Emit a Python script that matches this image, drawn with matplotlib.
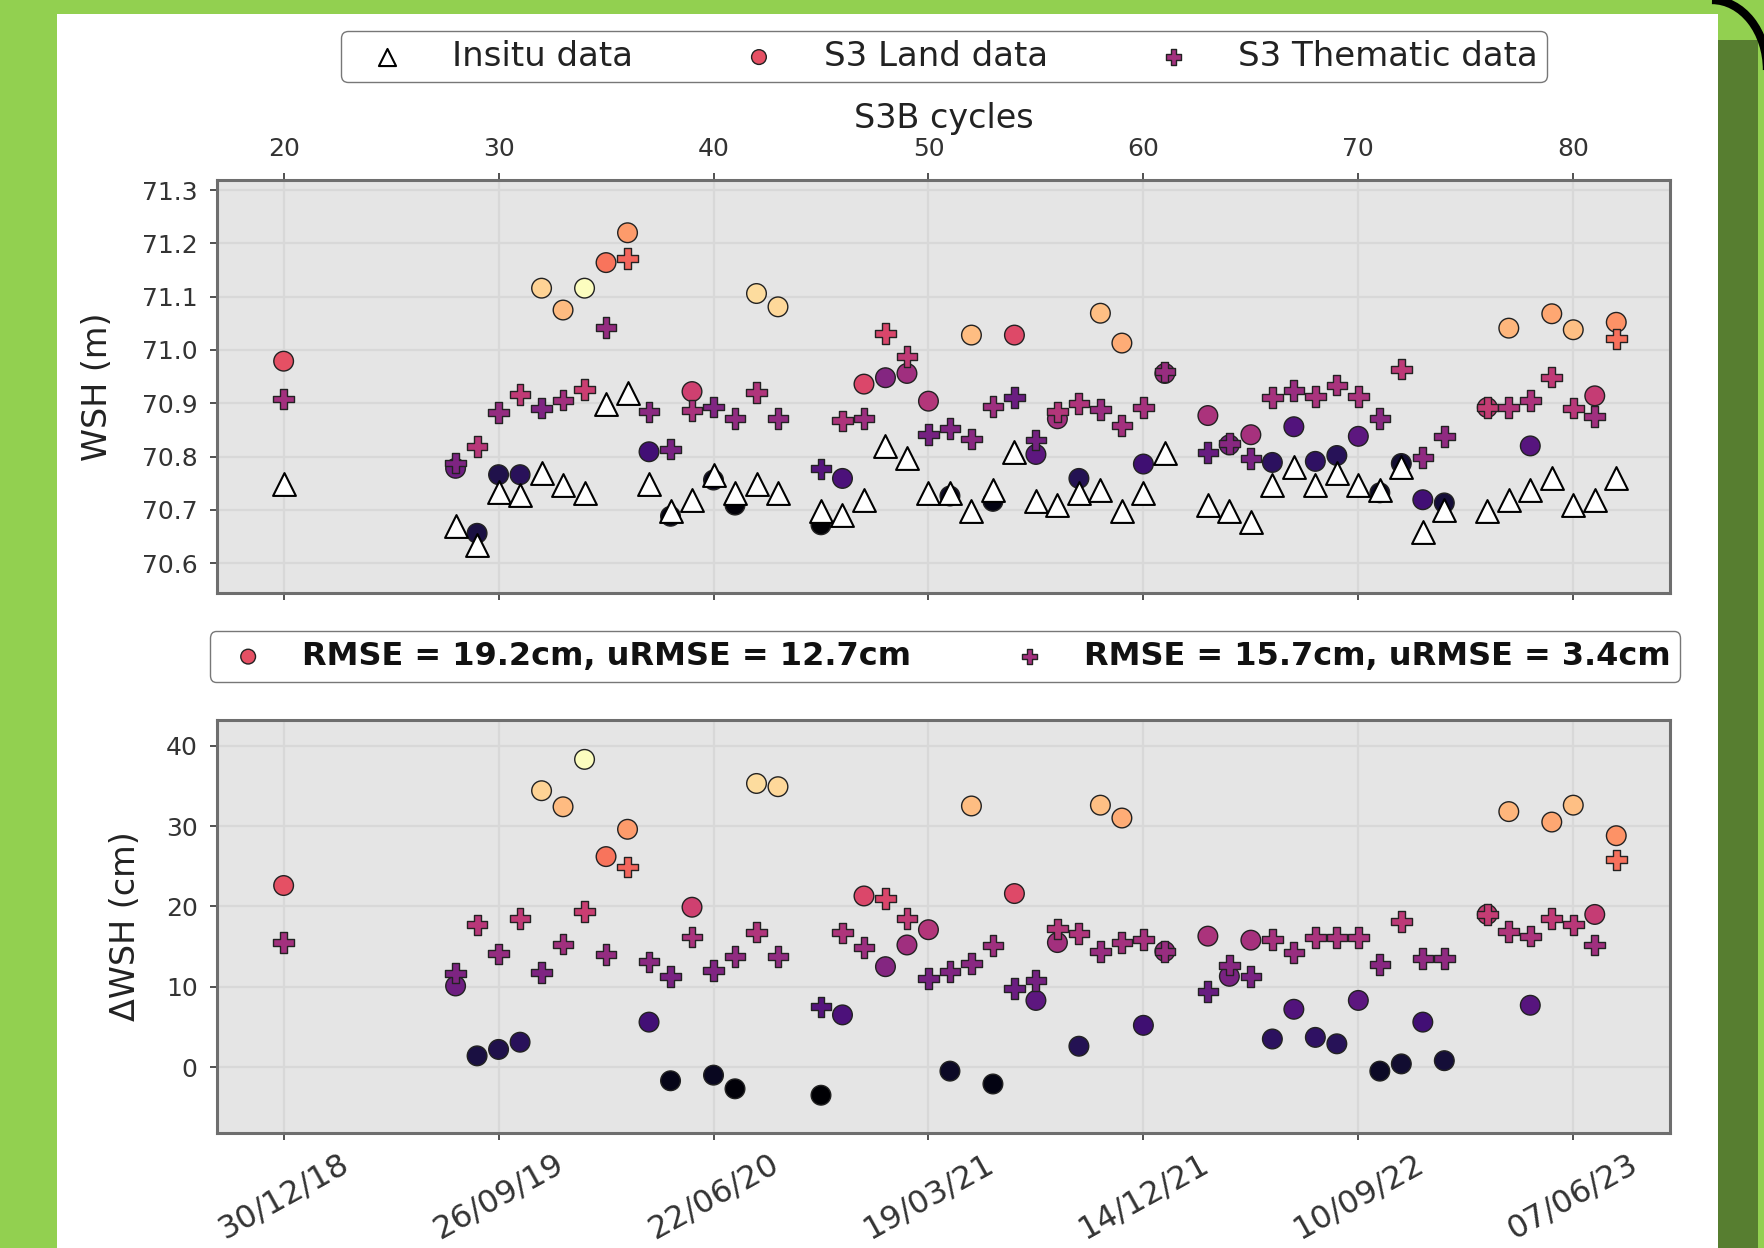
import numpy as np
import matplotlib.pyplot as plt
from matplotlib.patches import Rectangle, Arc

# S3B cycle numbers with data
cycles = [20, 28, 29, 30, 31, 32, 33, 34, 35, 36, 37, 38, 39, 40, 41, 42, 43,
          45, 46, 47, 48, 49, 50, 51, 52, 53, 54, 55, 56, 57, 58, 59, 60, 61,
          63, 64, 65, 66, 67, 68, 69, 70, 71, 72, 73, 74,
          76, 77, 78, 79, 80, 81, 82]

# water surface height (m)
insitu_wsh = [70.748, 70.669, 70.634, 70.734, 70.728, 70.769, 70.747, 70.731, 70.898, 70.919,
              70.748, 70.697, 70.719, 70.766, 70.731, 70.748, 70.731,
              70.697, 70.691, 70.719, 70.819, 70.798, 70.731, 70.731, 70.697, 70.737,
              70.809, 70.716, 70.709, 70.731, 70.737, 70.697, 70.731, 70.806,
              70.709, 70.697, 70.678, 70.747, 70.781, 70.747, 70.769, 70.747, 70.737,
              70.781, 70.659, 70.700,
              70.697, 70.719, 70.737, 70.759, 70.709, 70.719, 70.759]
land_wsh = [70.979, 70.778, 70.656, 70.766, 70.766, 71.116, 71.075, 71.116, 71.164, 71.220,
            70.809, 70.688, 70.922, 70.756, 70.709, 71.106, 71.081,
            70.672, 70.759, 70.936, 70.948, 70.956, 70.904, 70.726, 71.028, 70.716,
            71.028, 70.804, 70.871, 70.759, 71.069, 71.013, 70.786, 70.956,
            70.877, 70.822, 70.841, 70.789, 70.856, 70.791, 70.802, 70.838, 70.732,
            70.787, 70.719, 70.713,
            70.892, 71.041, 70.820, 71.068, 71.038, 70.914, 71.052]
them_wsh = [70.908, 70.788, 70.819, 70.883, 70.917, 70.891, 70.906, 70.926, 71.042, 71.172,
            70.884, 70.814, 70.886, 70.893, 70.871, 70.920, 70.871,
            70.777, 70.867, 70.872, 71.031, 70.988, 70.841, 70.853, 70.833, 70.894,
            70.911, 70.831, 70.884, 70.900, 70.888, 70.858, 70.892, 70.959,
            70.808, 70.825, 70.796, 70.911, 70.924, 70.913, 70.934, 70.913, 70.871,
            70.964, 70.798, 70.838,
            70.892, 70.892, 70.905, 70.949, 70.891, 70.875, 71.021]

# difference to in-situ (cm)
land_dwsh = [22.6, 10.1, 1.4, 2.2, 3.1, 34.4, 32.4, 38.3, 26.2, 29.6,
             5.6, -1.7, 19.9, -1.0, -2.7, 35.3, 34.9,
             -3.5, 6.5, 21.3, 12.5, 15.2, 17.1, -0.5, 32.5, -2.1,
             21.6, 8.3, 15.5, 2.6, 32.6, 31.0, 5.2, 14.4,
             16.3, 11.3, 15.8, 3.5, 7.2, 3.7, 2.9, 8.3, -0.5,
             0.4, 5.6, 0.8,
             19.0, 31.8, 7.7, 30.5, 32.6, 19.0, 28.8]
them_dwsh = [15.5, 11.7, 17.7, 14.1, 18.5, 11.8, 15.3, 19.4, 14.0, 24.9,
             13.1, 11.3, 16.2, 12.0, 13.8, 16.8, 13.8,
             7.5, 16.7, 14.9, 21.0, 18.5, 11.0, 11.9, 12.9, 15.1,
             9.8, 10.8, 17.2, 16.6, 14.4, 15.5, 15.9, 14.4,
             9.4, 12.7, 11.3, 15.9, 14.3, 16.1, 16.1, 16.1, 12.8,
             18.1, 13.5, 13.5,
             19.0, 16.9, 16.3, 18.5, 17.7, 15.2, 25.8]

cycle_ticks = [20, 30, 40, 50, 60, 70, 80]
date_labels = ['30/12/18', '26/09/19', '22/06/20', '19/03/21', '14/12/21', '10/09/22', '07/06/23']
legend_top = ['Insitu data', 'S3 Land data', 'S3 Thematic data']
legend_bottom = ['RMSE = 19.2cm, uRMSE = 12.7cm', 'RMSE = 15.7cm, uRMSE = 3.4cm']

W, H = 1764, 1248
fig = plt.figure(figsize=(W / 100, H / 100), dpi=100, facecolor='#92D050')

# white sheet + dark frame strip on the right (behind the axes)
fig.patches.append(Rectangle((57 / W, 0), (1718 - 57) / W, 1 - 14 / H, transform=fig.transFigure,
                             facecolor='white', edgecolor='none', zorder=-10))
fig.patches.append(Rectangle((1718 / W, 0), 40 / W, 1 - 40 / H, transform=fig.transFigure,
                             facecolor='#577E30', edgecolor='none', zorder=-10))
fig.patches.append(Arc((1712 / W, 1 - 70 / H), 110 / W, 140 / H, theta1=0, theta2=90,
                       transform=fig.transFigure, color='black', lw=6, zorder=-9))

norm = plt.Normalize(vmin=min(land_dwsh), vmax=max(land_dwsh))
cmap = 'magma'

ax1 = fig.add_axes([217 / W, 1 - 593 / H, 1453 / W, 413 / H])
ax2 = fig.add_axes([217 / W, 1 - 1133 / H, 1453 / W, 413 / H])

for ax in (ax1, ax2):
    ax.set_facecolor('#E5E5E5')
    ax.grid(True, color='#D8D8D8', lw=1.6)
    ax.set_axisbelow(True)
    for s in ax.spines.values():
        s.set_color('#6E6E6E')
        s.set_linewidth(2.2)
    ax.set_xlim(16.9, 84.5)
    ax.set_xticks(cycle_ticks)
    ax.tick_params(colors='#333333', labelsize=18, length=5, width=1.2, pad=9)

# top panel: absolute heights
sc_land = ax1.scatter(cycles, land_wsh, c=land_dwsh, cmap=cmap, norm=norm, marker='o',
                      s=200, edgecolors='#222222', linewidths=1, zorder=3)
sc_them = ax1.scatter(cycles, them_wsh, c=them_dwsh, cmap=cmap, norm=norm, marker='P',
                      s=220, edgecolors='#222222', linewidths=1, zorder=4)
sc_ins = ax1.scatter(cycles, insitu_wsh, marker='^', s=270, facecolors='white',
                     edgecolors='black', linewidths=1.5, zorder=5)
ax1.set_ylim(70.544, 71.319)
ax1.set_yticks(np.arange(70.6, 71.35, 0.1))
ax1.yaxis.set_major_formatter(plt.FormatStrFormatter('%.1f'))
ax1.tick_params(axis='x', top=True, labeltop=True, bottom=True, labelbottom=False)
ax1.xaxis.set_label_position('top')
ax1.set_xlabel('S3B cycles', fontsize=24, color='#222222', labelpad=6)
ax1.set_ylabel('WSH (m)', fontsize=24, color='#222222', labelpad=20)

fig.legend([sc_ins, sc_land, sc_them], legend_top, loc='center', bbox_to_anchor=(944 / W, 1 - 56.5 / H),
           ncol=3, fontsize=24.5, markerscale=0.75, handlelength=2.2, handletextpad=0.8,
           columnspacing=2.6, borderpad=0.25, fancybox=True, edgecolor='#777777',
           framealpha=1, labelcolor='#222222')

# bottom panel: differences
b_land = ax2.scatter(cycles, land_dwsh, c=land_dwsh, cmap=cmap, norm=norm, marker='o',
                     s=200, edgecolors='#222222', linewidths=1, zorder=3)
b_them = ax2.scatter(cycles, them_dwsh, c=them_dwsh, cmap=cmap, norm=norm, marker='P',
                     s=220, edgecolors='#222222', linewidths=1, zorder=4)
ax2.set_ylim(-8.2, 43.2)
ax2.set_yticks([0, 10, 20, 30, 40])
ax2.set_xticklabels(date_labels, rotation=29, ha='center', fontsize=23)
ax2.tick_params(axis='x', pad=6)
ax2.set_ylabel('ΔWSH (cm)', fontsize=24, color='#222222', labelpad=17)

fig.legend([b_land, b_them], legend_bottom, loc='center', bbox_to_anchor=(945 / W, 1 - 656.5 / H),
           ncol=2, prop={'weight': 'bold', 'size': 23}, markerscale=0.75, handlelength=1.8,
           handletextpad=0.8, columnspacing=2.8, borderpad=0.3, fancybox=True,
           edgecolor='#777777', framealpha=1, labelcolor='#111111')

fig.savefig('out.png', dpi=100, facecolor=fig.get_facecolor())
